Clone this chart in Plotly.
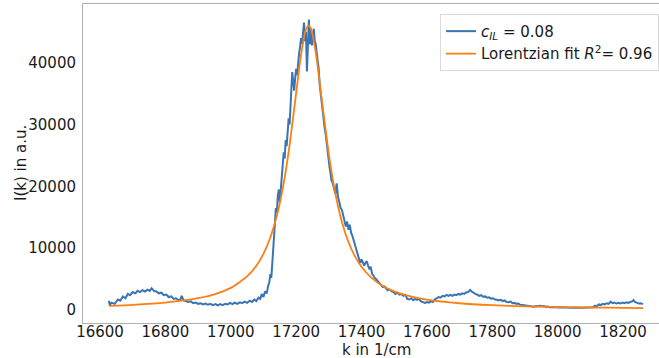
import plotly.graph_objects as go

# ---- data ----
blue_k = [16627, 16630, 16635, 16645, 16655, 16662, 16670, 16678, 16685, 16692,
          16700, 16708, 16715, 16722, 16730, 16738, 16745, 16752, 16758, 16765,
          16772, 16780, 16788, 16795, 16803, 16810, 16818, 16825, 16832, 16840,
          16846, 16850, 16855, 16862, 16870, 16878, 16885, 16893, 16900, 16908,
          16915, 16923, 16930, 16938, 16945, 16953, 16960, 16968, 16975, 16983,
          16990, 16998, 17005, 17012, 17020, 17028, 17035, 17042, 17050, 17058,
          17065, 17072, 17078, 17085, 17090, 17095, 17100, 17105, 17110, 17114,
          17118, 17121, 17124, 17127, 17130, 17133, 17135, 17138, 17141, 17144,
          17147, 17150, 17153, 17156, 17159, 17162, 17165, 17168, 17171, 17174,
          17177, 17180, 17183, 17186, 17188, 17191, 17194, 17197, 17200, 17203,
          17206, 17209, 17212, 17215, 17218, 17221, 17224, 17227, 17230, 17233,
          17236, 17239, 17242, 17245, 17248, 17251, 17254, 17257, 17260, 17263,
          17266, 17269, 17272, 17275, 17278, 17281, 17284, 17287, 17290, 17293,
          17296, 17299, 17302, 17305, 17308, 17312, 17316, 17320, 17324, 17328,
          17332, 17336, 17340, 17344, 17348, 17352, 17356, 17360, 17364, 17368,
          17372, 17376, 17380, 17384, 17388, 17392, 17396, 17400, 17404, 17408,
          17412, 17416, 17420, 17424, 17428, 17432, 17436, 17440, 17445, 17450,
          17455, 17460, 17465, 17470, 17475, 17480, 17486, 17492, 17498, 17504,
          17510, 17516, 17522, 17528, 17534, 17540, 17546, 17552, 17558, 17564,
          17570, 17576, 17582, 17588, 17594, 17600, 17606, 17612, 17618, 17624,
          17630, 17636, 17642, 17648, 17654, 17660, 17666, 17672, 17678, 17684,
          17690, 17696, 17702, 17708, 17714, 17720, 17726, 17732, 17737, 17742,
          17748, 17754, 17760, 17766, 17772, 17778, 17784, 17790, 17796, 17802,
          17808, 17814, 17820, 17826, 17832, 17838, 17844, 17850, 17856, 17862,
          17868, 17874, 17880, 17886, 17892, 17898, 17904, 17910, 17916, 17922,
          17928, 17934, 17940, 17946, 17952, 17958, 17964, 17970, 17976, 17982,
          17988, 17994, 18000, 18010, 18020, 18030, 18040, 18050, 18060, 18070,
          18080, 18090, 18100, 18108, 18114, 18120, 18126, 18132, 18138, 18144,
          18150, 18156, 18162, 18168, 18174, 18180, 18186, 18192, 18198, 18204,
          18210, 18216, 18222, 18228, 18232, 18236, 18242, 18248, 18254, 18261]
blue_I = [1500, 800, 1200, 1000, 1700, 1500, 2200, 1900, 2600, 2400,
          2900, 2700, 3100, 2900, 3200, 3000, 3300, 3100, 3500, 3100,
          3000, 2700, 2800, 2400, 2500, 2100, 2200, 1800, 1900, 1600,
          1700, 2300, 1600, 1500, 1300, 1400, 1100, 1200, 1000, 1100,
          900, 1050, 850, 1000, 800, 950, 750, 950, 800, 1000,
          900, 1150, 950, 1200, 1000, 1250, 1100, 1350, 1150, 1500,
          1300, 1700, 1450, 2000, 1800, 2600, 2100, 3000, 2700, 3800,
          4500, 5800, 5200, 7500, 9500, 11500, 14000, 16500, 15800, 18500,
          19500, 17500, 20500, 21500, 23500, 25500, 24500, 27500, 26500, 29500,
          31000, 30000, 34000, 36500, 38500, 37000, 35500, 37500, 39000, 38000,
          40500, 41500, 42500, 44000, 43000, 45500, 46500, 43500, 45000, 38600,
          44000, 47000, 43000, 45500, 42800, 44500, 45500, 43500, 43000, 41500,
          40500, 39000, 36500, 35000, 33000, 31800, 30500, 29500, 28600, 27000,
          25800, 24500, 23200, 22200, 21000, 20500, 19500, 18800, 20500, 18300,
          17500, 16500, 16200, 15200, 14000, 13500, 14300, 13000, 13800, 12500,
          12000, 11300, 10200, 9500, 9200, 8300, 7600, 8200, 7800, 7200,
          7600, 7900, 7200, 6600, 7000, 5900, 5600, 5200, 5000, 4700,
          4300, 4100, 3700, 3800, 3400, 3200, 3300, 3000, 2900, 2600,
          2800, 2500, 2600, 2300, 2450, 1800, 1700, 1900, 1600, 1800,
          1650, 1800, 1400, 1300, 1150, 1300, 1200, 1400, 1300, 1700,
          1900, 2100, 2000, 2300, 2200, 2450, 2300, 2450, 2300, 2500,
          2400, 2600, 2500, 2700, 2600, 2850, 2900, 3250, 3000, 2800,
          2600, 2500, 2300, 2400, 2150, 2200, 2000, 2050, 1850, 1900,
          1700, 1650, 1550, 1650, 1450, 1550, 1300, 1250, 1350, 1100,
          1150, 1000, 1050, 850, 800, 750, 700, 750, 600, 650,
          550, 650, 600, 700, 600, 650, 500, 550, 450, 500,
          420, 480, 400, 450, 380, 420, 350, 420, 380, 430,
          360, 410, 380, 430, 700, 650, 900, 800, 1000, 900,
          1100, 1000, 1350, 1100, 1200, 1050, 1150, 1050, 1200, 1100,
          1250, 1150, 1300, 1400, 1600, 1300, 1200, 1050, 1100, 950]

fit_k = [16627, 16700, 16800, 16900, 16950, 17000, 17050, 17080, 17100, 17120,
         17140, 17160, 17180, 17200, 17215, 17230, 17238, 17245, 17260, 17280,
         17300, 17320, 17340, 17360, 17380, 17400, 17430, 17460, 17500, 17550,
         17600, 17700, 17800, 17900, 18000, 18100, 18200, 18261]
fit_I = [682, 842, 1200, 1906, 2543, 3584, 5432, 7292, 9085, 11566,
         15037, 19939, 26690, 35097, 41308, 45395, 46020, 45539, 41670, 33345,
         25188, 18824, 14243, 11000, 8682, 6995, 5237, 4057, 3016, 2202,
         1684, 1093, 782, 599, 483, 404, 348, 322]

x_ticks = [16600, 16800, 17000, 17200, 17400, 17600, 17800, 18000, 18200]
y_ticks = [0, 10000, 20000, 30000, 40000]

name_data = "<i>c</i><sub><i>IL</i></sub> = 0.08"
name_fit = "Lorentzian fit <i>R</i><sup>2</sup>= 0.96"
x_title = "k in 1/cm"
y_title = "I(k) in a.u."

fig = go.Figure()
fig.add_trace(go.Scatter(x=blue_k, y=blue_I, mode="lines", name=name_data,
                         line=dict(color="#3875b6", width=2)))
fig.add_trace(go.Scatter(x=fit_k, y=fit_I, mode="lines", name=name_fit,
                         line=dict(color="#fb7f12", width=1.8, shape="spline", smoothing=0.6)))

font_family = "DejaVu Sans"
W, H = 659, 358
ML, MR, MT, MB = 83, 0, 4, 35
fig.update_layout(
    width=W, height=H,
    margin=dict(l=ML, r=MR, t=MT, b=MB),
    paper_bgcolor="white", plot_bgcolor="white",
    font=dict(family=font_family, size=15, color="#1a1a1a"),
    showlegend=True,
    legend=dict(x=0.62, y=0.969, xanchor="left", yanchor="top",
                bgcolor="rgba(255,255,255,0.85)", bordercolor="#d9d9d9", borderwidth=1,
                font=dict(family=font_family, size=15, color="#1a1a1a"),
                tracegroupgap=0, itemwidth=30),
    xaxis=dict(range=[16548, 18310], tickvals=x_ticks, ticktext=[str(v) for v in x_ticks],
               showgrid=False, zeroline=False, showline=True, linecolor="#b0b0b0",
               linewidth=1, mirror=True, ticks="", ticklabelstandoff=-5,
               tickfont=dict(size=15), automargin=False),
    yaxis=dict(range=[-2100, 49500], tickvals=y_ticks, ticktext=[str(v) for v in y_ticks],
               showgrid=False, zeroline=False, showline=True, linecolor="#b0b0b0",
               linewidth=1, ticks="outside", ticklen=3,
               tickcolor="rgba(0,0,0,0)", tickfont=dict(size=15), automargin=False),
)

plot_w = W - ML - MR
plot_h = H - MT - MB
# axis titles placed as annotations (paper coordinates)
fig.add_annotation(text=x_title, xref="paper", yref="paper",
                   x=(376 - ML) / plot_w, y=-(350 - (H - MB)) / plot_h,
                   xanchor="center", yanchor="middle", showarrow=False,
                   font=dict(family=font_family, size=15, color="#1a1a1a"))
fig.add_annotation(text=y_title, xref="paper", yref="paper",
                   x=-(ML - 21) / plot_w, y=1 - (163 - MT) / plot_h,
                   xanchor="center", yanchor="middle", textangle=-90, showarrow=False,
                   font=dict(family=font_family, size=15, color="#1a1a1a"))

fig.write_html("out.html")
